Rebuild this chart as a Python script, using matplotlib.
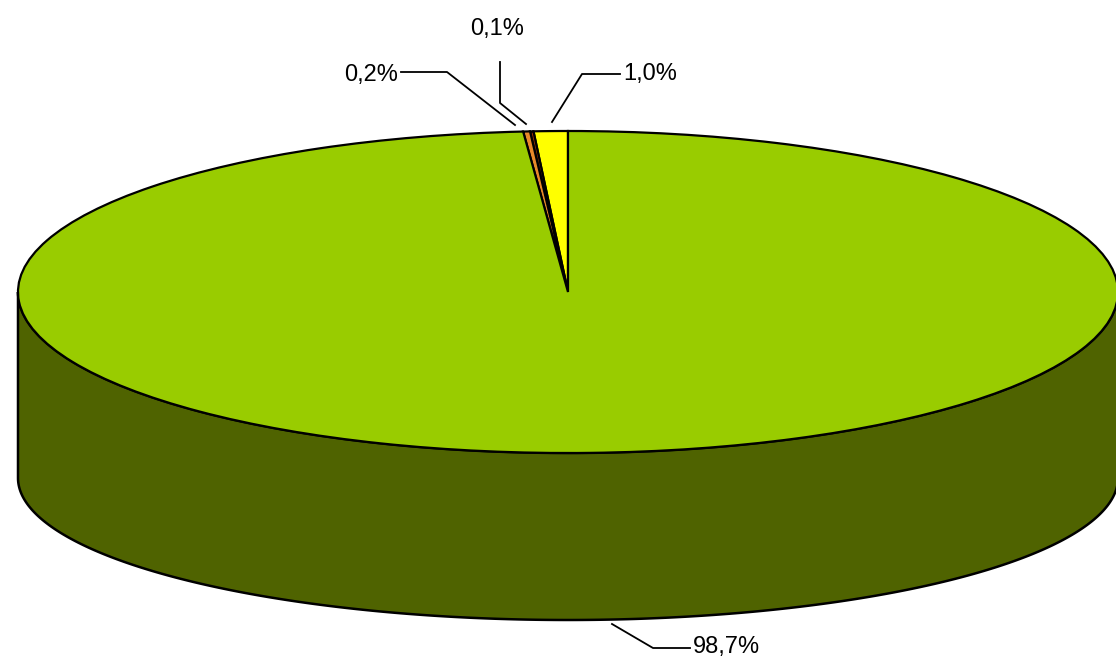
import numpy as np
import matplotlib.pyplot as plt
from matplotlib.transforms import Affine2D

# slice shares (%), counterclockwise from 12 o'clock
shares = [1.0, 0.1, 0.2, 98.7]
labels = ['1,0%', '0,1%', '0,2%', '98,7%']
colors = ['#FFFF00', '#993300', '#E8892A', '#99CC00']
side_color = '#4F6300'

# geometry of the 3d pie in pixels
cx, cy = 568, 292
rx, ry = 550, 161
bot_cy, bot_ry = 478, 142

fig = plt.figure(figsize=(11.16, 6.62), dpi=100)
ax = fig.add_axes([0, 0, 1, 1])

# side of the cake (front half)
t = np.linspace(np.pi, 2 * np.pi, 300)
xs = cx + rx * np.cos(t)
top = cy - ry * np.sin(t)
bot = bot_cy - bot_ry * np.sin(t)
ax.fill(np.r_[xs, xs[::-1]], np.r_[top, bot[::-1]], color=side_color,
        ec='black', lw=1.8, zorder=1)

# top face
wedges, _ = ax.pie(shares, colors=colors, startangle=90, counterclock=True,
                   wedgeprops=dict(edgecolor='black', linewidth=1.6))
tr = Affine2D().scale(rx, -ry).translate(cx, cy) + ax.transData
for w in wedges:
    w.set_transform(tr)
    w.set_zorder(2)

ax.set_aspect('auto')
ax.set_xlim(0, 1116)
ax.set_ylim(662, 0)
ax.axis('off')

font = dict(family=['Liberation Sans', 'DejaVu Sans'], fontsize=17, color='black')

# leader lines and labels
lead = dict(color='black', lw=1.3, zorder=3)
ax.plot([620, 582, 552], [74, 74, 122], **lead)
ax.text(623, 74, labels[0], va='center', ha='left', **font)

ax.plot([500, 500, 526], [62, 103, 124], **lead)
ax.text(497, 29, labels[1], va='center', ha='center', **font)

ax.plot([401, 447, 515], [72, 72, 125], **lead)
ax.text(398, 75, labels[2], va='center', ha='right', **font)

ax.plot([690, 653, 612], [648, 648, 624], **lead)
ax.text(693, 647, labels[3], va='center', ha='left', **font)

fig.savefig('out.png', dpi=100, facecolor='white')
